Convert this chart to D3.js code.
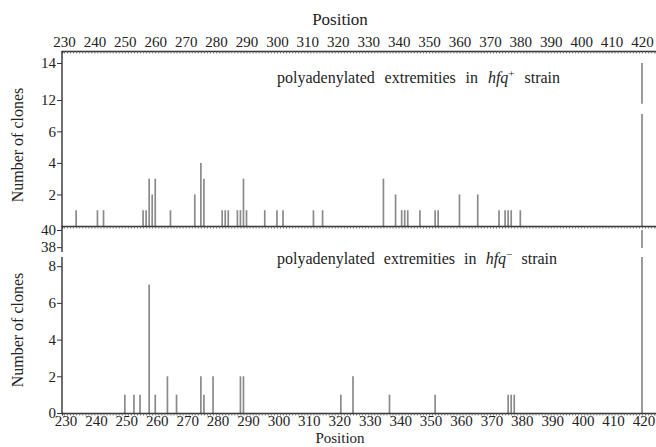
<!DOCTYPE html>
<html>
<head>
<meta charset="utf-8">
<script src="https://cdn.jsdelivr.net/npm/d3@7"></script>
<style>
body { margin: 0; background: #fff; }
text { font-family: "Liberation Serif", "DejaVu Serif", serif; fill: #222; }
</style>
</head>
<body>
<svg id="chart" width="656" height="447"></svg>
<script>
// hfq+ strain: position of the polyadenylated extremity and number of clones
var plusPos   = [234, 241, 243, 256, 257, 258, 259, 260, 265, 273, 275, 276, 282, 283, 284,
                 287, 288, 289, 290, 296, 300, 302, 312, 315, 335, 339, 341, 342, 343, 347,
                 352, 353, 360, 366, 373, 375, 376, 377, 380, 420];
var plusCount = [1, 1, 1, 1, 1, 3, 2, 3, 1, 2, 4, 3, 1, 1, 1,
                 1, 1, 3, 1, 1, 1, 1, 1, 1, 3, 2, 1, 1, 1, 1,
                 1, 1, 2, 2, 1, 1, 1, 1, 1, 14];

// hfq- strain
var minusPos   = [250, 253, 255, 258, 260, 264, 267, 275, 276, 279, 288, 289, 321, 325, 337,
                  352, 376, 377, 378, 420];
var minusCount = [1, 1, 1, 7, 1, 2, 1, 2, 1, 2, 2, 2, 1, 2, 1,
                  1, 1, 1, 1, 40];

var posTicks   = [230, 240, 250, 260, 270, 280, 290, 300, 310, 320,
                  330, 340, 350, 360, 370, 380, 390, 400, 410, 420];
var plusTicks  = [2, 4, 6, 12, 14];
var minusTicks = [0, 2, 4, 6, 8, 38, 40];

var svg = d3.select("#chart");

var x = d3.scaleLinear().domain([229.35, 424.6]).range([62, 656]);

// broken y axes: lower part and upper part with a gap between them
var plusBreak = [7.1, 11.8];
var yPlus = d3.scaleLinear()
    .domain([0, plusBreak[0], plusBreak[1], 14])
    .range([226, 114, 103.7, 63]);

var minusBreak = [8.5, 37.9];
var yMinus = d3.scaleLinear()
    .domain([0, minusBreak[0], minusBreak[1], 40])
    .range([413, 257, 248, 230]);

function segments(pos, count, brk) {
    var out = [];
    pos.forEach(function(p, i) {
        var v = count[i];
        if (v > brk[0]) {
            out.push({pos: p, from: 0, to: brk[0]});
            out.push({pos: p, from: brk[1], to: v});
        } else {
            out.push({pos: p, from: 0, to: v});
        }
    });
    return out;
}

function drawBars(cls, data, y) {
    svg.append("g").selectAll("line." + cls)
        .data(data)
        .join("line")
        .attr("class", cls)
        .attr("x1", d => x(d.pos)).attr("x2", d => x(d.pos))
        .attr("y1", d => y(d.from)).attr("y2", d => y(d.to))
        .attr("stroke", "#8a8a8a")
        .attr("stroke-width", 1.7);
}

drawBars("plus", segments(plusPos, plusCount, plusBreak), yPlus);
drawBars("minus", segments(minusPos, minusCount, minusBreak), yMinus);

// x axes: minor ticks every position
var minor = d3.range(230, 425);
function minorAxis(yPos) {
    var g = svg.append("g")
        .attr("transform", "translate(0," + yPos + ")")
        .call(d3.axisBottom(x).tickValues(minor).tickSize(2.5).tickFormat(""));
    g.select(".domain").attr("stroke", "#333").attr("stroke-width", 1.4);
    g.selectAll(".tick line").attr("stroke", "#555").attr("stroke-width", 0.8);
    return g;
}
minorAxis(51);
minorAxis(226);
minorAxis(413);

var topLabels = svg.append("g")
    .attr("transform", "translate(0,51)")
    .call(d3.axisTop(x).tickValues(posTicks).tickSize(0).tickPadding(4));
var botLabels = svg.append("g")
    .attr("transform", "translate(1.5,413)")
    .call(d3.axisBottom(x).tickValues(posTicks).tickSize(0).tickPadding(2));
[topLabels, botLabels].forEach(function(g) {
    g.select(".domain").remove();
    g.selectAll("text").style("font-size", "15px").attr("fill", "#222");
});

// y axes
function yAxis(scale, ticks) {
    var g = svg.append("g")
        .attr("transform", "translate(62,0)")
        .call(d3.axisLeft(scale).tickValues(ticks).tickSize(5).tickPadding(1));
    g.select(".domain").remove();
    g.selectAll(".tick line").attr("stroke", "#333");
    g.selectAll("text").style("font-size", "15px").attr("fill", "#222");
    return g;
}
yAxis(yPlus, plusTicks);
yAxis(yMinus, minusTicks);

svg.append("line").attr("x1", 62).attr("x2", 62)
    .attr("y1", 51).attr("y2", yPlus(0))
    .attr("stroke", "#333").attr("stroke-width", 1.4);
svg.append("line").attr("x1", 62).attr("x2", 62)
    .attr("y1", yPlus(0)).attr("y2", 252)
    .attr("stroke", "#333").attr("stroke-width", 1.4);
svg.append("line").attr("x1", 62).attr("x2", 62)
    .attr("y1", 257).attr("y2", yMinus(0))
    .attr("stroke", "#333").attr("stroke-width", 1.4);

// titles
svg.append("text").attr("x", 340).attr("y", 25)
    .attr("text-anchor", "middle").style("font-size", "17px").text("Position");
svg.append("text").attr("x", 340).attr("y", 443)
    .attr("text-anchor", "middle").style("font-size", "15px").text("Position");

[145, 330].forEach(function(cy) {
    svg.append("text")
        .attr("transform", "translate(23," + cy + ") rotate(-90)")
        .attr("text-anchor", "middle")
        .style("font-size", "16px")
        .text("Number of clones");
});

// panel annotations
function note(yBase, sign, target) {
    var t = svg.append("text")
        .attr("x", 277).attr("y", yBase)
        .style("font-size", "16px");
    t.append("tspan").text("polyadenylated extremities in ");
    t.append("tspan").style("font-style", "italic").text("hfq");
    t.append("tspan").attr("dy", -6).style("font-size", "11px").text(sign);
    t.append("tspan").attr("dy", 6).text(" strain");
    var w = t.node().getBBox().width;
    t.style("word-spacing", Math.max(0, (target - w) / 4) + "px");
}
note(83, "+", 283);
note(264, "\u2212", 280);
</script>
</body>
</html>
